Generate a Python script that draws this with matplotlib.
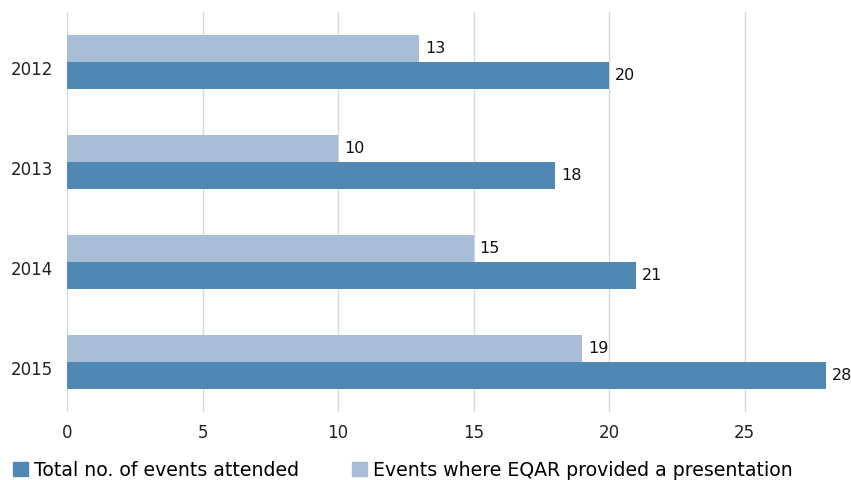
import matplotlib
matplotlib.use("Agg")
import matplotlib.pyplot as plt
import matplotlib.transforms as mtransforms
import numpy as np
from matplotlib.patches import Patch

years = ["2012", "2013", "2014", "2015"]
total_events = [20, 18, 21, 28]
presentations = [13, 10, 15, 19]
xticks = [0, 5, 10, 15, 20, 25]

dark = "#5088b4"
light = "#aabdd7"

fig = plt.figure(figsize=(8.51, 4.8), dpi=100)
ax = fig.add_axes([67/851, (480-412)/480, (826-67)/851, 400/480])

y = np.arange(len(years))
h = 0.27
ax.barh(y - h/2, presentations, height=h, color=light, zorder=3)
ax.barh(y + h/2, total_events, height=h, color=dark, zorder=3)

for i in range(len(years)):
    ax.text(presentations[i] + 0.22, y[i] - h/2, str(presentations[i]), va="center", ha="left", fontsize=11.5, color="#111111")
    ax.text(total_events[i] + 0.22, y[i] + h/2, str(total_events[i]), va="center", ha="left", fontsize=11.5, color="#111111", clip_on=False)

ax.set_xlim(0, 28)
ax.set_ylim(3.5, -0.5)
ax.set_yticks(y)
ax.set_yticklabels(years, fontsize=12, color="#222222")
ax.set_xticks(xticks)
ax.set_xticklabels([str(t) for t in xticks], fontsize=12, color="#222222")
ax.tick_params(length=0, pad=9)
ax.tick_params(axis="y", pad=10)
off = mtransforms.ScaledTranslation(0, -6/100, fig.dpi_scale_trans)
for lab in ax.get_yticklabels():
    lab.set_transform(lab.get_transform() + off)
ax.xaxis.grid(True, color="#d9d9d9", linewidth=1, zorder=0)
for s in ax.spines.values():
    s.set_visible(False)

handles = [Patch(color=dark), Patch(color=light)]
fig.legend(handles, ["Total no. of events attended", "Events where EQAR provided a presentation"],
           loc="center left", bbox_to_anchor=(13/851, 1 - 470/480), ncol=2, frameon=False, fontsize=13.6,
           borderaxespad=0, borderpad=0,
           handlelength=0.77, handleheight=0.77, handletextpad=0.35, columnspacing=2.8)

fig.savefig("out.png", dpi=100)
